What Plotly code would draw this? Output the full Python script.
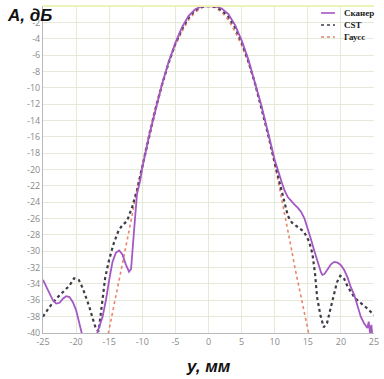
import plotly.graph_objects as go

# Scanner (measured) pattern
scan_x = [-25, -24.5, -24, -23.5, -23, -22.5, -22, -21.5, -21, -20.5, -20, -19.5, -19, -18, -16.8,
          -16, -15.5, -15, -14.5, -14, -13.5, -13, -12.5, -12, -11.7, -11.2, -10.8, -10.3, -10,
          -9, -8, -7, -6, -5, -4, -3, -2, -1, 0, 1, 2, 3, 4, 5, 6, 7, 8, 9, 10, 11, 11.5, 12,
          12.5, 13, 13.5, 14, 14.5, 15, 15.5, 16, 16.5, 17, 17.2, 17.5, 18, 18.5, 19, 19.5, 20,
          20.5, 21, 21.5, 22, 22.5, 23, 23.5, 24, 24.2, 24.4, 24.6, 24.8, 25]
scan_y = [-33.5, -34.4, -35.2, -36.0, -36.4, -36.3, -35.8, -35.5, -35.6, -36.2, -37.2, -38.8, -40.5, -46, -40,
          -38, -36, -33.5, -31.3, -30.2, -29.9, -30.4, -31.6, -32.5, -32.2, -27, -23, -21.3, -19.8,
          -16, -12.6, -9.5, -6.8, -4.5, -2.6, -1.2, -0.4, -0.05, 0, -0.05, -0.3, -1.0, -2.3, -4.2, -6.5, -9.2, -12.2, -15.5, -18.8, -21.4, -22.6, -23.4,
          -23.9, -24.3, -24.7, -25.2, -26, -27.2, -28.6, -30, -31.4, -32.6, -32.9, -32.8, -32.2, -31.6, -31.3, -31.4, -31.7,
          -32.3, -33.2, -34.4, -35.3, -36.6, -38.0, -38.8, -39.4, -38.6, -40.0, -39.0, -40.8, -41]

# CST simulation
cst_x = [-25, -24, -23, -22, -21, -20.3, -19.6, -19, -18.5, -18, -17.5, -17, -16.6, -16.2, -15.6,
         -15, -14.3, -13.6, -13, -12.3, -11.5, -10.8, -10, -9, -8, -7, -6, -5, -4, -3, -2, -1, 0,
         1, 2, 3, 4, 5, 6, 7, 8, 9, 10, 11, 11.5, 12, 12.6, 13.5, 14.4, 15.2, 15.7, 16.1, 16.4,
         16.9, 17.4, 17.9, 18.4, 18.9, 19.4, 19.9, 20.4, 21, 21.5, 22, 22.5, 23, 23.5, 24, 24.5, 25]
cst_y = [-38, -36.8, -35.8, -35, -34.2, -33.3, -33.5, -34.5, -35.6, -36.8, -38.2, -39.5, -39.8, -37, -33.2,
         -31, -29, -27.5, -26.8, -26.3, -24.5, -22.5, -19.6, -15.9, -12.6, -9.6, -6.9, -4.6, -2.8, -1.4, -0.5, -0.1, 0,
         -0.1, -0.5, -1.3, -2.6, -4.4, -6.7, -9.4, -12.4, -15.7, -19.2, -22.5, -24.3, -25.7, -26.5, -27, -27.6, -28.8, -30.3, -32.8, -35.6,
         -37.8, -39.3, -38.8, -37, -35.3, -33.8, -33, -33.2, -34.3, -35, -35.6, -36, -36.3, -36.6, -37, -37.4, -37.8]

# Gaussian beam
gauss_x = [-15.5, -15, -14.5, -14, -13.5, -13, -12.5, -12, -11, -10, -9, -8, -7, -6, -5, -4, -3, -2, -1, 0,
           1, 2, 3, 4, 5, 6, 7, 8, 9, 10, 11, 12, 12.5, 13, 13.5, 14, 14.5, 15, 15.5]
gauss_y = [-41.5, -39.5, -37.6, -35.6, -33.6, -31.8, -29.6, -27.5, -23.3, -19.3, -15.6, -12.3, -9.4, -6.9, -4.8, -3.1, -1.7, -0.75, -0.2, 0,
           -0.2, -0.75, -1.7, -3.1, -4.8, -6.9, -9.4, -12.3, -15.6, -19.3, -23.3, -27.5, -29.6, -31.8, -33.6, -35.6, -37.6, -39.5, -41.5]

x_ticks = [-25, -20, -15, -10, -5, 0, 5, 10, 15, 20, 25]
y_ticks = [-2, -4, -6, -8, -10, -12, -14, -16, -18, -20, -22, -24, -26, -28, -30, -32, -34, -36, -38, -40]

series_names = ["Сканер", "CST", "Гаусс"]
series_colors = ["#a458c4", "#3c3c48", "#e8846c"]
series_dash = ["solid", "dot", "dot"]
series_width = [1.8, 2.2, 1.6]

fig = go.Figure()
fig.add_trace(go.Scatter(x=gauss_x, y=gauss_y, mode="lines", name=series_names[2],
                         line=dict(color=series_colors[2], width=series_width[2], dash=series_dash[2])))
fig.add_trace(go.Scatter(x=cst_x, y=cst_y, mode="lines", name=series_names[1],
                         line=dict(color=series_colors[1], width=series_width[1], dash=series_dash[1])))
fig.add_trace(go.Scatter(x=scan_x, y=scan_y, mode="lines", name=series_names[0],
                         line=dict(color=series_colors[0], width=series_width[0], dash=series_dash[0])))

# Compact legend drawn as small samples + text (top-right of the plot)
L, R, T, B = 43, 10, 6, 46
W, H = 384 - L - R, 379 - T - B
def px_x(p):
    return (p - L) / W
def px_y(p):
    return (379 - B - p) / H

shapes = [dict(type="line", xref="paper", yref="paper", x0=0, x1=1, y0=1, y1=1,
               line=dict(color="#eef3b8", width=2))]
annotations = []
for i, (nm, col, dsh) in enumerate(zip(series_names, series_colors, series_dash)):
    yy = px_y(13 + 12 * i)
    shapes.append(dict(type="line", xref="paper", yref="paper",
                       x0=px_x(321), x1=px_x(335), y0=yy, y1=yy,
                       line=dict(color=col, width=1.6, dash=dsh)))
    annotations.append(dict(text="<b>%s</b>" % nm, xref="paper", yref="paper",
                            x=px_x(342), y=yy, xanchor="left", yanchor="middle",
                            showarrow=False,
                            font=dict(family="Liberation Serif", size=9, color="#222")))

annotations += [
    dict(text="<b><i>A, дБ</i></b>", xref="paper", yref="paper", x=px_x(5), y=px_y(4),
         xanchor="left", yanchor="top", showarrow=False,
         font=dict(family="Liberation Sans", size=17, color="#111")),
    dict(text="<b><i>y, мм</i></b>", xref="paper", yref="paper", x=0.5, y=px_y(355),
         xanchor="center", yanchor="top", showarrow=False,
         font=dict(family="Liberation Sans", size=17, color="#111")),
]

fig.update_layout(
    width=384, height=379,
    margin=dict(l=L, r=R, t=T, b=B),
    paper_bgcolor="white", plot_bgcolor="white",
    showlegend=False,
    xaxis=dict(range=[-25, 25], tickvals=x_ticks, ticktext=[str(v) for v in x_ticks],
               showgrid=True, gridcolor="#e4e9d8", gridwidth=1,
               showline=True, linecolor="#b8b8b8", linewidth=1,
               zeroline=False, ticks="", tickfont=dict(family="Open Sans", size=9, color="#8a8a8a")),
    yaxis=dict(range=[-40, 0], tickvals=y_ticks, ticktext=[str(v) for v in y_ticks],
               showgrid=True, gridcolor="#e4e9d8", gridwidth=1,
               showline=True, linecolor="#b8b8b8", linewidth=1,
               zeroline=False, ticks="", tickfont=dict(family="Open Sans", size=9, color="#8a8a8a")),
    shapes=shapes,
    annotations=annotations,
)

fig.write_html("out.html", config={"displayModeBar": False},
               post_script="document.body.style.margin='0px';")
